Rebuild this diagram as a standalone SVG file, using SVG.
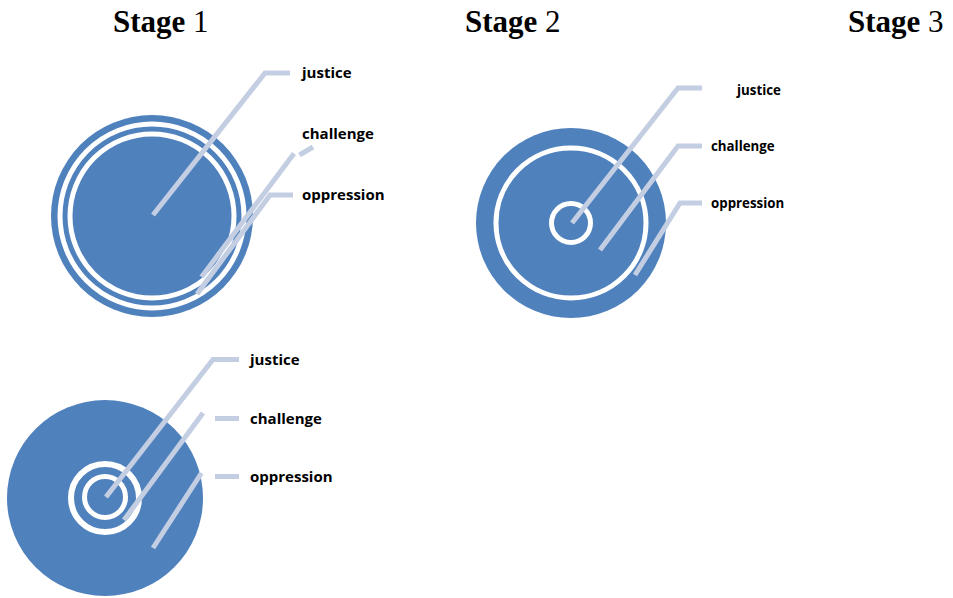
<svg xmlns="http://www.w3.org/2000/svg" width="953" height="598" viewBox="0 0 953 598">
<style>
.disc{fill:#4f81bd}
.ring{fill:none;stroke:#ffffff}
.con{fill:none;stroke:#c3cee3;stroke-width:5;stroke-linejoin:miter}
.lbl{font-family:"Open Sans","Liberation Sans",sans-serif;font-weight:bold;font-size:15px;fill:#000}
.lbl.sm{font-size:13.3px}
.title{font-family:"Liberation Serif","Times New Roman",serif;font-size:31px;fill:#000}
</style>
<rect width="953" height="598" fill="#ffffff"/>
<g id="titles">
<text class="title" x="113" y="32"><tspan font-weight="bold">Stage</tspan> 1</text>
<text class="title" x="465" y="32"><tspan font-weight="bold">Stage</tspan> 2</text>
<text class="title" x="848" y="32"><tspan font-weight="bold">Stage</tspan> 3</text>
</g>
<g id="stage1">
<circle class="disc" cx="152" cy="216" r="101"/>
<circle class="ring" cx="152" cy="216" r="92" stroke-width="5"/>
<circle class="ring" cx="152" cy="216" r="82" stroke-width="5"/>
</g>
<g id="stage2">
<circle class="disc" cx="571" cy="223" r="95"/>
<circle class="ring" cx="571" cy="223" r="75" stroke-width="5"/>
<circle class="ring" cx="571" cy="223" r="19.5" stroke-width="5"/>
</g>
<g id="stage3">
<circle class="disc" cx="105" cy="498" r="98"/>
<circle class="ring" cx="105" cy="498" r="34" stroke-width="6"/>
<circle class="ring" cx="105" cy="497" r="20.5" stroke-width="5"/>
</g>
<g id="connectors">
<polyline class="con" points="153,215 265,73 290,73"/>
<line class="con" x1="201.5" y1="277" x2="294" y2="153.5"/>
<line class="con" x1="299.5" y1="155" x2="313" y2="147"/>
<polyline class="con" points="197,294 270,195 293,195"/>
<polyline class="con" points="572,223 678,88 702,88"/>
<polyline class="con" points="600,250 678,146 702,146"/>
<polyline class="con" points="635,275 680,203 702,203"/>
<polyline class="con" points="106,497 213,359.5 239,359.5"/>
<line class="con" x1="124" y1="520" x2="203" y2="413"/>
<line class="con" x1="215" y1="418.5" x2="239" y2="418.5"/>
<line class="con" x1="153" y1="548" x2="201.5" y2="473"/>
<line class="con" x1="215" y1="476.5" x2="239" y2="476.5"/>
</g>
<g id="labels1">
<text class="lbl" x="302" y="78">justice</text>
<text class="lbl" x="302" y="139">challenge</text>
<text class="lbl" x="302" y="200">oppression</text>
</g>
<g id="labels2">
<text class="lbl sm" x="737" y="95">justice</text>
<text class="lbl sm" x="711" y="151">challenge</text>
<text class="lbl sm" x="711" y="208">oppression</text>
</g>
<g id="labels3">
<text class="lbl" x="250" y="365">justice</text>
<text class="lbl" x="250" y="424">challenge</text>
<text class="lbl" x="250" y="482">oppression</text>
</g>
</svg>
